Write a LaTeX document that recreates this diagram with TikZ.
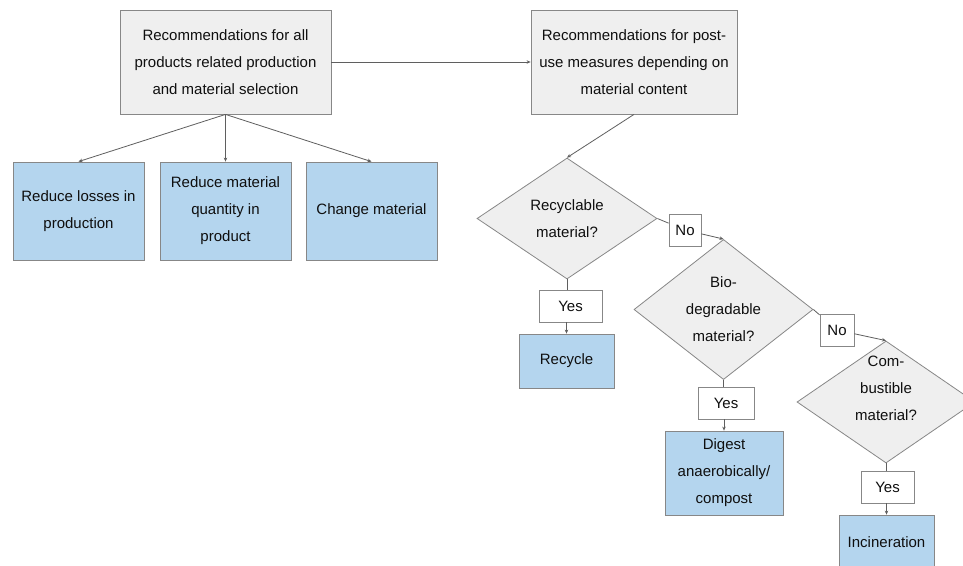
\documentclass[tikz,border=0pt]{standalone}
\usepackage{fontspec}
\setmainfont{Liberation Sans}
\usetikzlibrary{shapes.geometric,arrows.meta}
\definecolor{graybg}{RGB}{239,239,239}
\definecolor{bluebg}{RGB}{180,213,238}
\definecolor{bordercol}{RGB}{135,135,135}
\definecolor{linecol}{RGB}{95,95,95}
\definecolor{txtcol}{RGB}{15,15,15}
\newcommand{\myfont}{\fontsize{15}{27}\selectfont}
\begin{document}
\begin{tikzpicture}[x=1pt,y=-1pt,
  base/.style={draw=bordercol, line width=0.8pt, text=txtcol, align=center, inner sep=0pt, font=\myfont},
  gbox/.style={base, rectangle, fill=graybg},
  bbox/.style={base, rectangle, fill=bluebg},
  dia/.style={base, diamond, fill=graybg},
  lbl/.style={base, rectangle, fill=white, minimum height=32pt},
  conn/.style={draw=linecol, line width=0.8pt},
  arr/.style={conn, -{Stealth[length=4pt,width=3.5pt]}}
]
\clip (0,0) rectangle (963,565);
\fill[white] (0,0) rectangle (963,565);

\node[gbox, minimum width=211pt, minimum height=104pt] (A) at (225.5,62)
  {Recommendations for all\\products related production\\and material selection};
\node[gbox, minimum width=206pt, minimum height=104pt] (B) at (634,62)
  {Recommendations for post-\\use measures depending on\\material content};

\node[bbox, minimum width=131pt, minimum height=98pt] (R1) at (78.5,211) {Reduce losses in\\production};
\node[bbox, minimum width=131pt, minimum height=98pt] (R2) at (225.5,211) {Reduce material\\quantity in\\product};
\node[bbox, minimum width=131pt, minimum height=98pt] (R3) at (371.5,211) {Change material};

\node[dia, minimum width=180pt, minimum height=121pt] (d1) at (567,218.5) {Recyclable\\material?};
\node[lbl, minimum width=32pt] (no1) at (685,230) {No};
\node[dia, minimum width=179pt, minimum height=123pt] (d2) at (723.5,309.5) {Bio-\\degradable\\material?};
\node[lbl, minimum width=63pt] (yes1) at (570.5,306) {Yes};
\node[bbox, minimum width=95pt, minimum height=54pt] (rec) at (566.5,361) {Recycle};
\node[lbl, minimum width=56pt] (yes2) at (726,403) {Yes};
\node[bbox, minimum width=118pt, minimum height=84pt] (dig) at (724,473) {Digest\\anaerobically/\\compost};
\node[lbl, minimum width=34pt] (no2) at (837,330) {No};
\node[dia, minimum width=178pt, minimum height=122pt] (d3) at (886,402) {};
\node[font=\myfont, text=txtcol, align=center, inner sep=0pt] (d3t) at (886,388) {Com-\\bustible\\material?};
\node[lbl, minimum width=53pt] (yes3) at (887.5,487) {Yes};
\node[bbox, minimum width=95pt, minimum height=54pt] (inc) at (886.5,542) {Incineration};

\draw[arr] (A.east) -- (B.west);
\draw[arr] (A.south) -- (R1.north);
\draw[arr] (A.south) -- (R2.north);
\draw[arr] (A.south) -- (R3.north);
\draw[arr] (B.south) -- (d1.north);

\draw[conn] (d1.east) -- (no1);
\draw[arr] (no1) -- (d2.north);
\draw[conn] (d1.south) -- (d1.south |- yes1.north);
\draw[arr] (rec.north |- yes1.south) -- (rec.north);

\draw[conn] (d2.east) -- (no2);
\draw[arr] (no2) -- (d3.north);
\draw[conn] (d2.south) -- (d2.south |- yes2.north);
\draw[arr] (dig.north |- yes2.south) -- (dig.north);

\draw[conn] (d3.south) -- (d3.south |- yes3.north);
\draw[arr] (inc.north |- yes3.south) -- (inc.north);
\end{tikzpicture}
\end{document}
